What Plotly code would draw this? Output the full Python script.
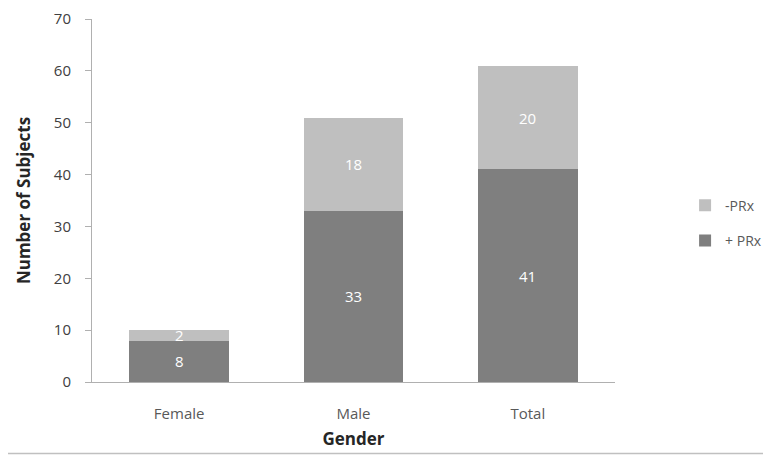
import plotly.graph_objects as go

categories = ["Female", "Male", "Total"]
pos_prx = [8, 33, 41]
neg_prx = [2, 18, 20]
series_names = ["+ PRx", "-PRx"]

dark = "#7f7f7f"
light = "#bfbfbf"
font_family = "Open Sans, DejaVu Sans, sans-serif"

fig = go.Figure()
fig.add_trace(go.Bar(
    x=categories, y=pos_prx, name=series_names[0], legendgroup="a", legendrank=2,
    marker=dict(color=dark, line=dict(width=0)),
))
fig.add_trace(go.Bar(
    x=categories, y=neg_prx, name=series_names[1], legendgroup="b", legendrank=1,
    marker=dict(color=light, line=dict(width=0)),
))

annotations = []
for c, p, n in zip(categories, pos_prx, neg_prx):
    annotations.append(dict(x=c, y=p / 2, text=str(p), showarrow=False,
                            font=dict(color="white", size=15, family=font_family)))
    annotations.append(dict(x=c, y=p + n / 2, text=str(n), showarrow=False,
                            font=dict(color="white", size=15, family=font_family)))

fig.update_layout(
    width=763, height=447,
    margin=dict(l=84, r=156, t=11, b=73, autoexpand=False),
    barmode="stack", bargap=0.43,
    plot_bgcolor="white", paper_bgcolor="white",
    font=dict(family=font_family, color="#404040", size=14),
    showlegend=True,
    legend=dict(
        x=1.134, xanchor="left", y=0.53, yanchor="top",
        traceorder="grouped", tracegroupgap=14,
        font=dict(size=14, color="#595959"),
        itemwidth=30,
    ),
    annotations=annotations,
    xaxis=dict(
        title=dict(text="<b>Gender</b>", font=dict(size=17, color="#262626"), standoff=11),
        showline=True, linecolor="#b0b0b0", linewidth=1,
        ticks="", tickfont=dict(size=15, color="#595959"),
        ticklabelstandoff=18,
        showgrid=False, automargin=False,
    ),
    yaxis=dict(
        title=dict(text="<b>Number of Subjects</b>", font=dict(size=17, color="#262626"), standoff=18),
        range=[0, 70], dtick=10,
        showline=True, linecolor="#b0b0b0", linewidth=1,
        ticks="outside", ticklen=6, tickcolor="#b0b0b0",
        tickfont=dict(size=15, color="#404040"),
        ticklabelstandoff=11,
        showgrid=False, zeroline=False, automargin=False,
    ),
    shapes=[dict(type="line", xref="paper", yref="paper",
                 x0=-0.25, x1=1.35, y0=-0.197, y1=-0.197,
                 line=dict(color="#c0c0c0", width=1.5))],
)

fig.write_html("out.html")
